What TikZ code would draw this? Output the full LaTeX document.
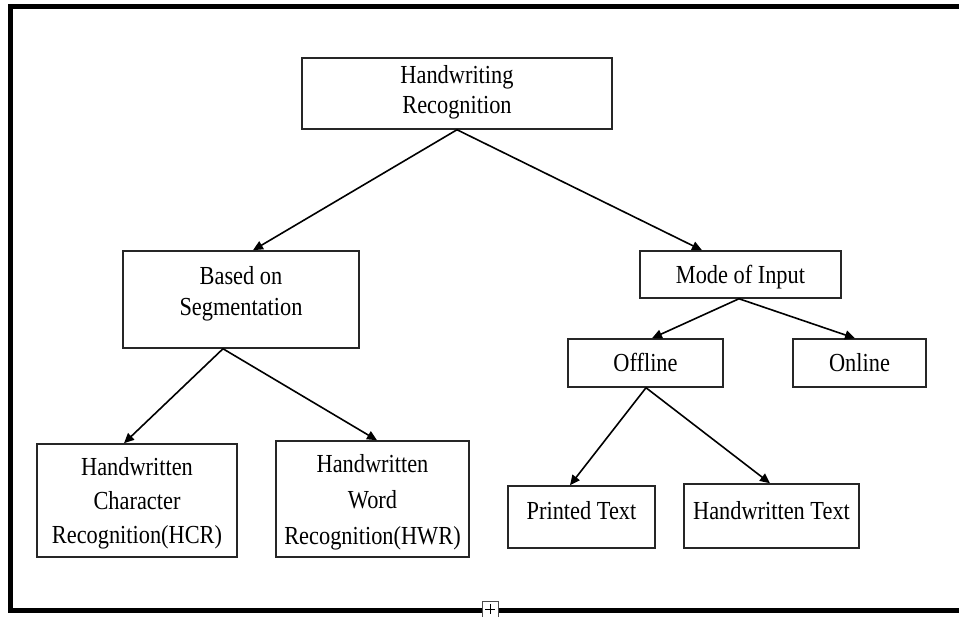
\documentclass[tikz,border=0pt]{standalone}
\usepackage{fontspec}
\setmainfont{Liberation Serif}[FakeStretch=0.86]
\usetikzlibrary{arrows.meta}

\begin{document}
\begin{tikzpicture}[x=1pt,y=-1pt,
    box/.style={draw=black!85, line width=1.5pt, align=center, inner sep=0pt,
        font=\fontsize{26}{34}\selectfont},
    link/.style={line width=1.6pt, -{Triangle[length=10pt,width=9pt]}}]
    \useasboundingbox (0,0) rectangle (959,617);
    % outer frame, right side runs off the page
    \draw [line width=5pt] (959,7) -- (10,7) -- (10,610.5) -- (959,610.5);
%    \draw [line width=5pt] (954,7) -- (954,610.5);

    \node [box, minimum width=310, minimum height=71, font=\fontsize{26}{30}\selectfont, text depth=8.8pt] (root) at (457,93.5) {Handwriting\\Recognition};
    \node [box, minimum width=236, minimum height=97, font=\fontsize{26}{31}\selectfont, text depth=17.8pt] (seg) at (241,299.5) {Based on\\Segmentation};
    \node [box, minimum width=201, minimum height=47, text height=18pt, text depth=0pt] (mode) at (740.5,274.5) {Mode of Input};
    \node [box, minimum width=155, minimum height=48, text height=18pt, text depth=0pt] (offline) at (645.5,363) {Offline};
    \node [box, minimum width=133, minimum height=48, text height=18pt, text depth=0pt] (online) at (859.5,363) {Online};
    \node [box, minimum width=200, minimum height=113, font=\fontsize{26}{34}\selectfont, text depth=-7.2pt] (hcr) at (137,500.5) {Handwritten\\Character\\Recognition(HCR)};
    \node [box, minimum width=193, minimum height=116, font=\fontsize{26}{36}\selectfont, text depth=-5.6pt] (hwr) at (372.5,499) {Handwritten\\Word\\Recognition(HWR)};
    \node [box, minimum width=147, minimum height=62, text height=18pt, text depth=14pt] (printed) at (581.5,517) {Printed Text};
    \node [box, minimum width=175, minimum height=64, text height=18pt, text depth=12pt] (hwtext) at (771.5,516) {Handwritten Text};

    \foreach \a/\b/\s/\t in {root/seg/0/12, root/mode/0/-38.5, seg/hcr/-18/-13, seg/hwr/-18/4.5,
        mode/offline/-1.5/6.5, mode/online/-1.5/-4.5, offline/printed/0.5/-11.5, offline/hwtext/0.5/-1.5}
        \draw [link] ([xshift=\s]\a.south) -- ([xshift=\t]\b.north);

    % small anchor mark on the bottom edge
    \draw [fill=white, draw=black!70, line width=0.8pt] (482,601) rectangle (498,617);
    \draw [line width=0.8pt] (490,604) -- (490,614) (485,609) -- (495,609);
\end{tikzpicture}
\end{document}
